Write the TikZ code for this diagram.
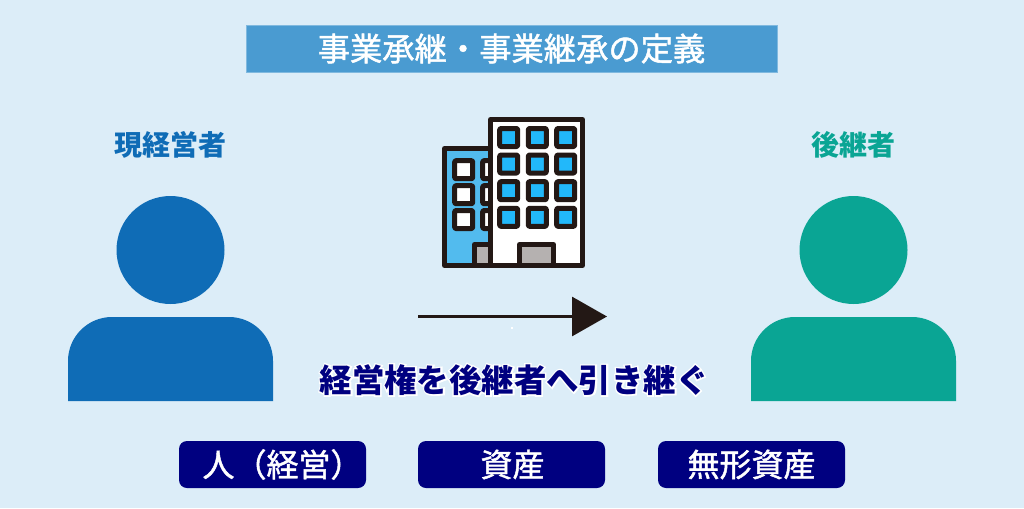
\documentclass[tikz,border=0pt]{standalone}
\usepackage{fontspec}
\setmainfont{Noto Sans CJK JP}
\newfontfamily\mediumfont[FakeBold=1.4]{Noto Sans CJK JP}
\usetikzlibrary{arrows.meta,positioning}
\definecolor{bgblue}{HTML}{DCEDF8}
\definecolor{titleblue}{HTML}{4A9BD1}
\definecolor{oldblue}{HTML}{0F6CB6}
\definecolor{newgreen}{HTML}{0AA594}
\definecolor{darknavy}{HTML}{000080}
\definecolor{inkblack}{HTML}{231815}
\definecolor{backblue}{HTML}{52BBEE}
\definecolor{glassblue}{HTML}{22B8FA}
\definecolor{doorgray}{HTML}{B5B1B0}
\newcommand{\halotext}[1]{\leavevmode\rlap{\color{white}\special{pdf:code 2 Tr 3 w}#1\special{pdf:code 0 Tr}}#1}
\tikzset{
  itembox/.style={fill=darknavy,rounded corners=8pt,minimum width=187pt,minimum height=47pt,
    text=white,font=\mediumfont\fontsize{32}{32}\selectfont,inner sep=0pt},
  rolelabel/.style={font=\fontsize{28}{28}\selectfont\bfseries,inner sep=0pt},
  bline/.style={draw=inkblack,line width=5pt,line join=round}
}
\begin{document}
\begin{tikzpicture}[x=1pt,y=-1pt]
  \useasboundingbox (0,0) rectangle (1024,508);
  \fill[bgblue] (0,0) rectangle (1024,508);

  % title bar
  \node[fill=titleblue,draw=titleblue!70!white,line width=0.5pt,minimum width=531pt,minimum height=47pt,
    text=white,font=\mediumfont\fontsize{32.3}{32}\selectfont,inner sep=0pt] (title) at (511.5,48.5) {事業承継・事業継承の定義};

  % the two people
  \node[rolelabel,text=oldblue] (oldlabel) at (170.5,145) {現経営者};
  \node[rolelabel,text=newgreen] (newlabel) at (853,145) {後継者};
  \foreach \x/\c in {68/oldblue,751/newgreen} {
    \fill[\c] (\x+102.5,250) circle (54);
    \fill[\c] (\x,401) [rounded corners=44] -- (\x,317) -- (\x+205,317) [sharp corners] -- (\x+205,401) -- cycle;
  }

  % back building
  \draw[bline,fill=backblue] (444.5,148.5) rectangle (500,265.5);
  \foreach \x in {463.7,491.7}
    \foreach \y in {169.7,194.7,219.5}
      \draw[bline,fill=white,rounded corners=1pt] (\x-9,\y-9) rectangle (\x+9,\y+9);
  \draw[bline,fill=doorgray] (474.5,265.5) -- (474.5,244.5) -- (500,244.5) -- (500,265.5) -- cycle;

  % front building
  \draw[bline,fill=white] (490.5,119.5) rectangle (582.5,265.5);
  \foreach \x in {508.7,537.3,565.7}
    \foreach \y in {137.5,164,190.7,217.3}
      \draw[bline,fill=glassblue,rounded corners=1pt] (\x-9,\y-9) rectangle (\x+9,\y+9);
  \draw[bline,fill=doorgray] (519.5,265.5) -- (519.5,244.5) -- (553.5,244.5) -- (553.5,265.5) -- cycle;

  % the arrow
  \coordinate (arrowstart) at (418,316.5);
  \coordinate (arrowend) at (607,316.5);
  \draw[-{Triangle[length=35pt,width=39pt]},inkblack,line width=3pt] (arrowstart) -- (arrowend);
  \fill[white] (511,327) rectangle (513,329);

  % caption
  \node[text=darknavy,font=\fontsize{32.4}{32}\selectfont\bfseries,inner sep=0pt] (caption) at (514,380) {\halotext{経営権を後継者へ引き継ぐ}};

  % the three items
  \node[itembox] (person) at (272.5,464.5) {\hspace*{20pt}人（経営）};
  \node[itembox] (assets) at (511.5,464.5) {\hspace*{2pt}資産};
  \node[itembox] (intangible) at (751.5,464.5) {無形資産};
\end{tikzpicture}
\end{document}
